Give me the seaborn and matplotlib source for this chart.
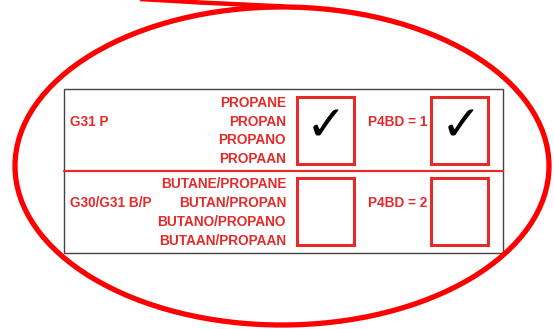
import matplotlib
matplotlib.use("Agg")
import matplotlib.pyplot as plt
import seaborn as sns
from matplotlib.patches import Ellipse, Rectangle

# ===== DATA =====
grades = ["G31 P", "G30/G31 B/P"]
gas_names = [
    ["PROPANE", "PROPAN", "PROPANO", "PROPAAN"],
    ["BUTANE/PROPANE", "BUTAN/PROPAN", "BUTANO/PROPANO", "BUTAAN/PROPAAN"],
]
p4bd_labels = ["P4BD = 1", "P4BD = 2"]
checked = [True, False]

# ===== STYLE =====
sns.set_style("white")
RED = "#E52A2A"
FONT = ["Liberation Sans", "DejaVu Sans"]
FS = 9.8

fig = plt.figure(figsize=(5.54, 3.29), dpi=100)
ax = fig.add_axes([0, 0, 1, 1])
ax.set_xlim(0, 554)
ax.set_ylim(329, 0)
ax.axis("off")

# ===== TABLE =====
ax.add_patch(Rectangle((64, 89), 439, 164, fill=False, ec="#444444", lw=1.0))
ax.plot([64, 503], [170.5, 170.5], color=RED, lw=1.6)

row_top = [89, 170.5]
line_gap = 18.9
for i, grade in enumerate(grades):
    first = row_top[i] + 12.7
    mid = first + line_gap
    ax.text(70, mid + 5, grade, color=RED, fontsize=FS, fontweight="bold",
            family=FONT, ha="left", va="baseline")
    for j, name in enumerate(gas_names[i]):
        ax.text(286, first + j * line_gap + 5, name, color=RED, fontsize=FS,
                fontweight="bold", family=FONT, ha="right", va="baseline")
    ax.text(368, mid + 5, p4bd_labels[i], color=RED, fontsize=FS,
            fontweight="bold", family=FONT, ha="left", va="baseline")
    box_y = row_top[i] + 7.5
    for bx in (296.5, 431):
        ax.add_patch(Rectangle((bx, box_y), 57, 67, fill=False, ec=RED, lw=2.2))
        if checked[i]:
            ax.text(bx + 30, box_y + 30, "\u2713", color="black", fontsize=35,
                    fontweight="bold", family="DejaVu Sans", ha="center", va="center")

# ===== CALLOUT ELLIPSE =====
ax.add_patch(Ellipse((282, 166), 534, 318, fill=False, ec="#FF0000", lw=3.8))
ax.plot([140, 200, 285], [-1, 2.5, 6.5], color="#FF0000", lw=3.2,
        solid_capstyle="butt")

fig.savefig("out.png", dpi=100)
